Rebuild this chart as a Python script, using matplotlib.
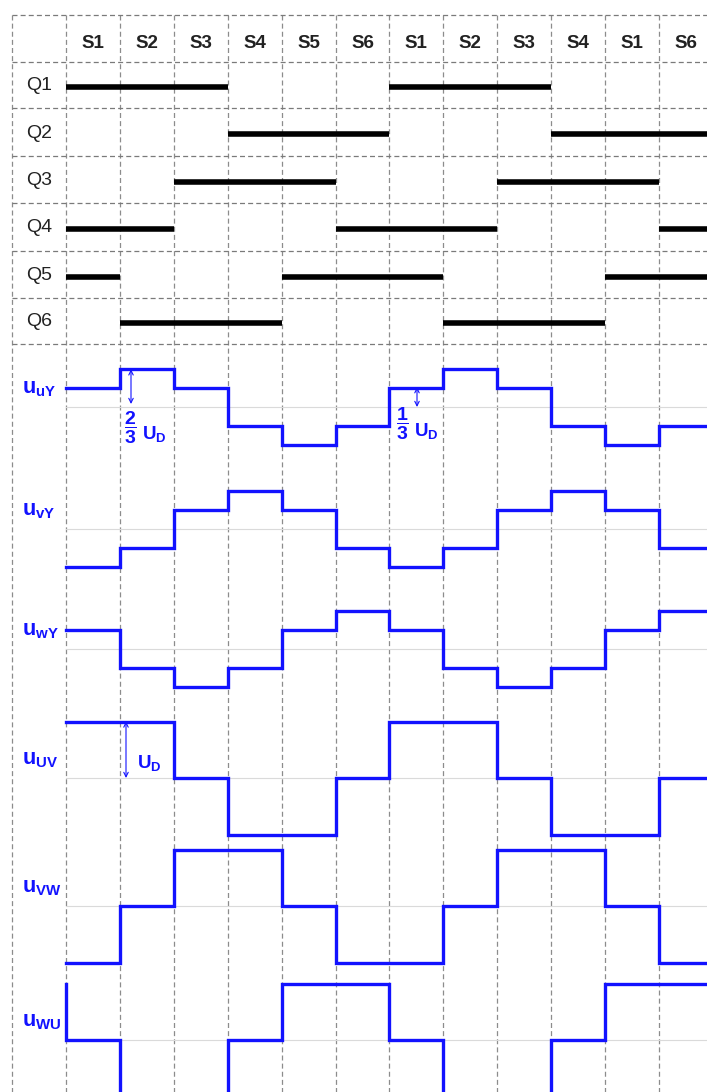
import numpy as np
import matplotlib
matplotlib.use('Agg')
import matplotlib.pyplot as plt

plt.rcParams['font.family'] = ['Liberation Sans', 'DejaVu Sans']
plt.rcParams['mathtext.fontset'] = 'custom'
plt.rcParams['mathtext.rm'] = 'Liberation Sans'
plt.rcParams['mathtext.bf'] = 'Liberation Sans:bold'
plt.rcParams['mathtext.it'] = 'Liberation Sans:italic'

# 扇区标签（每列一个）
sectors = ['S1', 'S2', 'S3', 'S4', 'S5', 'S6', 'S1', 'S2', 'S3', 'S4', 'S1', 'S6']

# 开关导通状态 1=导通
switch_names = ['Q1', 'Q2', 'Q3', 'Q4', 'Q5', 'Q6']
Q1 = [1, 1, 1, 0, 0, 0, 1, 1, 1, 0, 0, 0]
Q2 = [0, 0, 0, 1, 1, 1, 0, 0, 0, 1, 1, 1]
Q3 = [0, 0, 1, 1, 1, 0, 0, 0, 1, 1, 1, 0]
Q4 = [1, 1, 0, 0, 0, 1, 1, 1, 0, 0, 0, 1]
Q5 = [1, 0, 0, 0, 1, 1, 1, 0, 0, 0, 1, 1]
Q6 = [0, 1, 1, 1, 0, 0, 0, 1, 1, 1, 0, 0]
switches = [Q1, Q2, Q3, Q4, Q5, Q6]

# 相电压 / 线电压（单位 UD）
uuY = np.array([1, 2, 1, -1, -2, -1, 1, 2, 1, -1, -2, -1]) / 3
uvY = np.array([-2, -1, 1, 2, 1, -1, -2, -1, 1, 2, 1, -1]) / 3
uwY = np.array([1, -1, -2, -1, 1, 2, 1, -1, -2, -1, 1, 2]) / 3
uUV = np.array([1, 1, 0, -1, -1, 0, 1, 1, 0, -1, -1, 0])
uVW = np.array([-1, 0, 1, 1, 0, -1, -1, 0, 1, 1, 0, -1])
uWU = np.array([0, -1, -1, 0, 1, 1, 0, -1, -1, 0, 1, 1])
uWU_before = 1  # 左端的跳变
waves = [uuY, uvY, uwY, uUV, uVW, uWU]
wave_labels = [r'$\mathbf{u}_{\mathbf{uY}}$', r'$\mathbf{u}_{\mathbf{vY}}$',
               r'$\mathbf{u}_{\mathbf{wY}}$', r'$\mathbf{u}_{\mathbf{UV}}$',
               r'$\mathbf{u}_{\mathbf{VW}}$', r'$\mathbf{u}_{\mathbf{WU}}$']

# 布局（像素）
W, H = 707, 1092
CW = 53.9   # 列宽
X0 = 66     # 第一列左边


def px(x):
    return (x - X0) / CW


row_lines = [15, 62, 108, 156, 203, 251, 298, 344]
base_y = [407, 529, 649, 778, 906, 1040]
amp = 56.5
blue = '#1212ff'

fig = plt.figure(figsize=(W / 100, H / 100), dpi=100)
ax = fig.add_axes([0, 0, 1, 1])
ax.set_xlim(px(0), px(W))
ax.set_ylim(H, 0)
ax.axis('off')

dash = (0, (4, 2.5))
ncol = len(sectors)
xr = px(W)

# 网格
for k in range(ncol + 1):
    ax.plot([k, k], [row_lines[0], H], color='#8c8c8c', lw=0.9, ls=dash, zorder=1)
ax.plot([-1, -1], [row_lines[0], H], color='#8c8c8c', lw=0.9, ls=dash, zorder=1)
for y in row_lines:
    ax.plot([-1, xr], [y, y], color='#7a7a7a', lw=0.9, ls=dash, zorder=1)
for b in base_y:
    ax.plot([0, xr], [b, b], color='#dadada', lw=0.8, zorder=1)

# 表头
for k, s in enumerate(sectors):
    ax.text(k + 0.5, 43, s, ha='center', va='center', fontsize=13.5,
            fontweight='bold', color='#222222')

# 开关导通条
for i, (name, st) in enumerate(zip(switch_names, switches)):
    yc = (row_lines[i + 1] + row_lines[i + 2]) / 2
    ax.text(-0.5, yc + 1, name, ha='center', va='center', fontsize=14, color='#222222')
    st = np.array(st)
    k = 0
    while k < ncol:
        if st[k]:
            j = k
            while j < ncol and st[j]:
                j += 1
            ax.plot([k, j], [yc + 2, yc + 2], color='black', lw=4.0,
                    solid_capstyle='butt', zorder=3)
            k = j
        else:
            k += 1

# 波形
edges = np.arange(ncol + 1)
for i, (v, lab) in enumerate(zip(waves, wave_labels)):
    xs = list(np.repeat(edges, 2)[1:-1])
    ys = list(base_y[i] - amp * np.repeat(v, 2))
    if i == 5:
        xs = [0] + xs
        ys = [base_y[i] - amp * uWU_before] + ys
    ax.plot(xs, ys, color=blue, lw=2.4, solid_joinstyle='miter', zorder=4)
    ax.text(px(22), base_y[i] - 14, lab, ha='left', va='baseline',
            fontsize=15.5, color=blue, zorder=5)

# 标注
arr = dict(arrowstyle='<->', color=blue, lw=0.8, shrinkA=0, shrinkB=0,
           mutation_scale=8)
ax.annotate('', xy=(px(131), base_y[0] - amp * 2 / 3), xytext=(px(131), base_y[0] - 3),
            arrowprops=arr)
ax.text(px(130), 428, r'$\mathbf{\dfrac{2}{3}}$', ha='center', va='center',
        fontsize=14, color=blue)
ax.text(px(142), 434, r'$\mathbf{U}_{\mathbf{D}}$', ha='left', va='center',
        fontsize=13.5, color=blue)

ax.annotate('', xy=(px(417), base_y[0] - amp / 3 - 1), xytext=(px(417), base_y[0]),
            arrowprops=arr)
ax.text(px(402), 424, r'$\mathbf{\dfrac{1}{3}}$', ha='center', va='center',
        fontsize=14, color=blue)
ax.text(px(414), 431, r'$\mathbf{U}_{\mathbf{D}}$', ha='left', va='center',
        fontsize=13.5, color=blue)

ax.annotate('', xy=(px(126), base_y[3] - amp), xytext=(px(126), base_y[3]),
            arrowprops=arr)
ax.text(px(137), 763, r'$\mathbf{U}_{\mathbf{D}}$', ha='left', va='center',
        fontsize=13.5, color=blue)

fig.savefig('out.png', dpi=100)
